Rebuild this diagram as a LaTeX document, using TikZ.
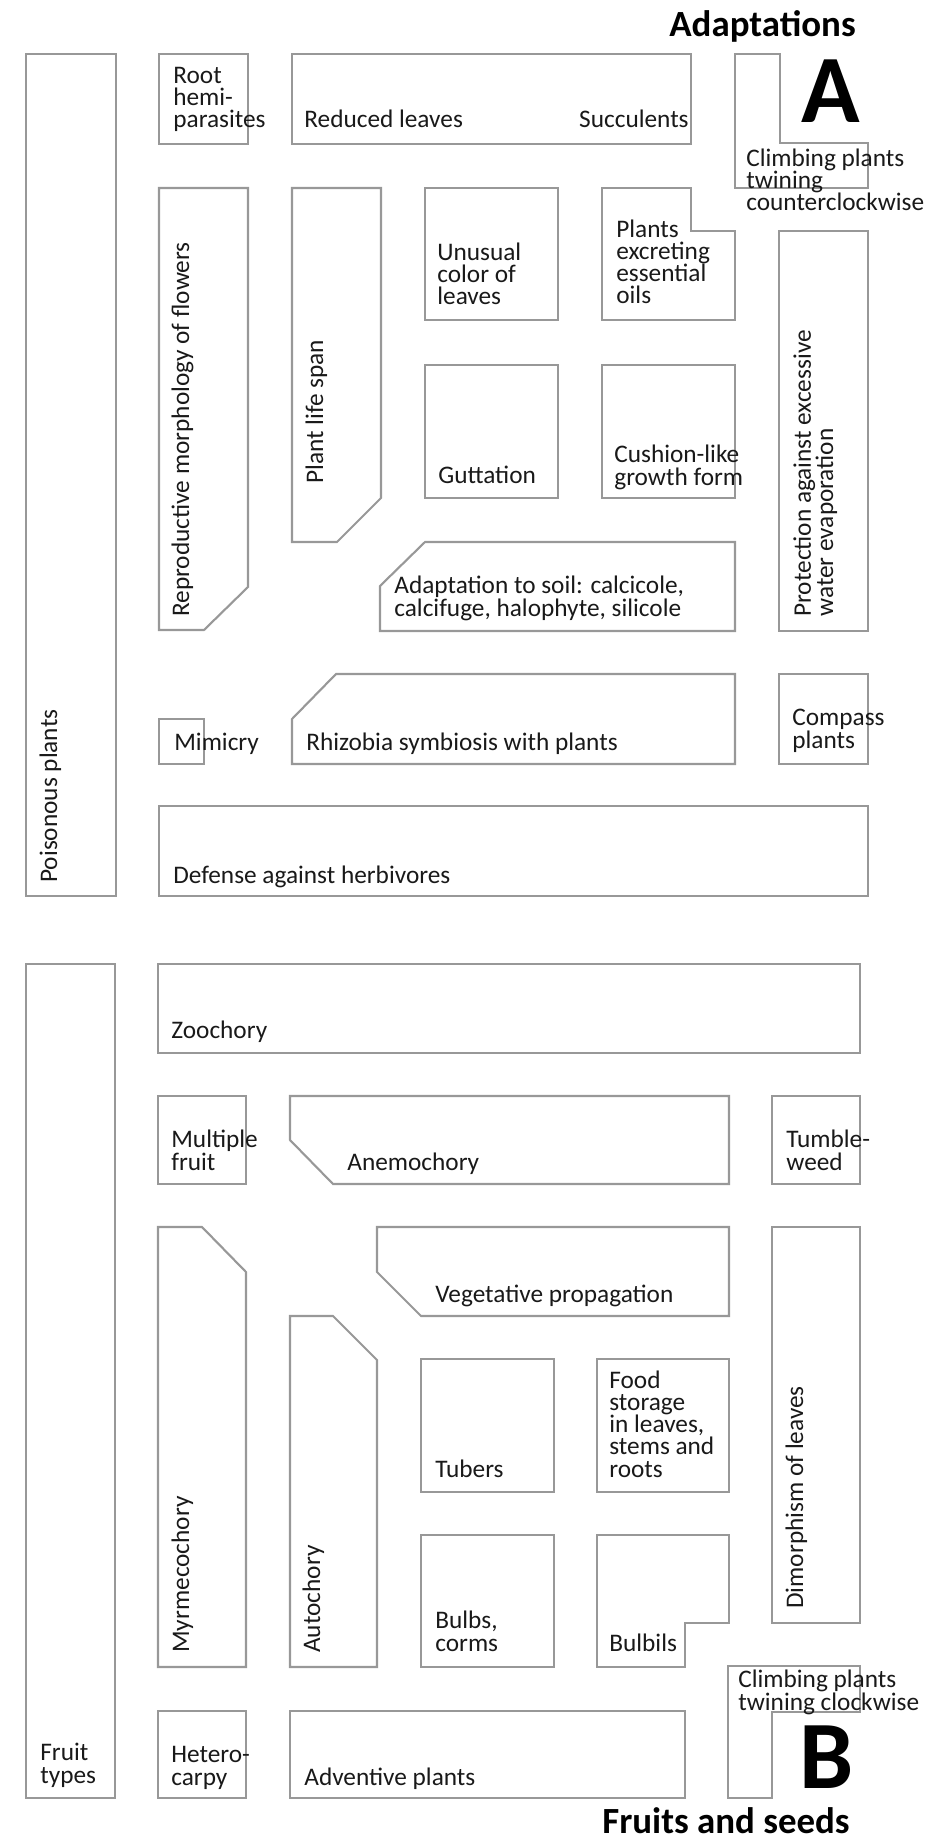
\documentclass[tikz,border=0pt]{standalone}
\usepackage{fontspec}
\setmainfont{Carlito}
\usepackage{xcolor}
\definecolor{boxgray}{RGB}{152,152,152}
\definecolor{txt}{RGB}{25,25,25}

\begin{document}
\begin{tikzpicture}[x=0.02cm, y=-0.02cm,
    box/.style={draw=boxgray, line width=1.2pt, line join=miter},
    lbl/.style={anchor=base west, inner sep=0pt, align=left, text=txt,
                font=\fontsize{14.4}{12.6}\selectfont},
    vlbl/.style={lbl, rotate=90},
    title/.style={anchor=base west, inner sep=0pt, font=\fontsize{21}{24}\selectfont\bfseries},
    letter/.style={anchor=base west, inner sep=0pt, font=\fontsize{55}{60}\selectfont\bfseries}]

    \useasboundingbox (0,0) rectangle (934,1841);

    % Adaptations: boxes
    \draw[box] (26,54) rectangle (116,896);
    \draw[box] (159,54) rectangle (248,144);
    \draw[box] (292,54) rectangle (691,144);
    \draw[box] (735,54) -- (780,54) -- (780,143) -- (868,143) -- (868,188) -- (735,188) -- cycle;
    \draw[box] (159,188) -- (248,188) -- (248,587) -- (204,630) -- (159,630) -- cycle;
    \draw[box] (292,188) -- (381,188) -- (381,498) -- (337,542) -- (292,542) -- cycle;
    \draw[box] (425,188) rectangle (558,320);
    \draw[box] (602,188) -- (691,188) -- (691,231) -- (735,231) -- (735,320) -- (602,320) -- cycle;
    \draw[box] (779,231) rectangle (868,631);
    \draw[box] (425,365) rectangle (558,498);
    \draw[box] (602,365) rectangle (735,498);
    \draw[box] (425,542) -- (735,542) -- (735,631) -- (380,631) -- (380,586) -- cycle;
    \draw[box] (159,719) rectangle (204,764);
    \draw[box] (336,674) -- (735,674) -- (735,764) -- (292,764) -- (292,719) -- cycle;
    \draw[box] (779,674) rectangle (868,764);
    \draw[box] (159,806) rectangle (868,896);

    % Adaptations: labels (multi-line ones sit on their last baseline)
    \node[title] (adapt) at (669,37) {Adaptations};
    \node[letter] (letA) at (801,123) {A};
    \node[lbl] (root) at (173,128) {Root\\hemi-\\parasites};
    \node[lbl] (reduced) at (304,128) {Reduced leaves};
    \node[lbl, anchor=base east] (succ) at (689,128) {Succulents};
    \node[lbl] (ccw) at (746,211) {Climbing plants\\twining\\counterclockwise};
    \node[lbl] (unusual) at (437,305) {Unusual\\color of\\leaves};
    \node[lbl] (oils) at (616,304) {Plants\\excreting\\essential\\oils};
    \node[lbl] (gutt) at (438,483) {Guttation};
    \node[lbl] (cushion) at (614,485) {Cushion-like\\growth form};
    \node[lbl] (soil) at (394,616) {Adaptation to soil: calcicole,\\calcifuge, halophyte, silicole};
    \node[lbl] (mimicry) at (174,750) {Mimicry};
    \node[lbl] (rhizo) at (306,750) {Rhizobia symbiosis with plants};
    \node[lbl] (compass) at (792,748) {Compass\\plants};
    \node[lbl] (defense) at (173,883) {Defense against herbivores};
    \node[vlbl] (poison) at (57,883) {Poisonous plants};
    \node[vlbl] (repro) at (189,617) {Reproductive morphology of flowers};
    \node[vlbl] (lifespan) at (323,484) {Plant life span};
    \node[vlbl] (protect) at (833,617) {Protection against excessive\\water evaporation};

    % Fruits and seeds: boxes
    \draw[box] (26,964) rectangle (115,1798);
    \draw[box] (158,964) rectangle (860,1053);
    \draw[box] (158,1096) rectangle (246,1184);
    \draw[box] (290,1096) -- (729,1096) -- (729,1184) -- (333,1184) -- (290,1140) -- cycle;
    \draw[box] (772,1096) rectangle (860,1184);
    \draw[box] (158,1227) -- (202,1227) -- (246,1272) -- (246,1667) -- (158,1667) -- cycle;
    \draw[box] (377,1227) -- (729,1227) -- (729,1316) -- (421,1316) -- (377,1272) -- cycle;
    \draw[box] (290,1316) -- (333,1316) -- (377,1360) -- (377,1667) -- (290,1667) -- cycle;
    \draw[box] (421,1359) rectangle (554,1492);
    \draw[box] (597,1359) rectangle (729,1492);
    \draw[box] (772,1227) rectangle (860,1623);
    \draw[box] (421,1535) rectangle (554,1667);
    \draw[box] (597,1535) -- (729,1535) -- (729,1623) -- (685,1623) -- (685,1667) -- (597,1667) -- cycle;
    \draw[box] (728,1666) -- (860,1666) -- (860,1712) -- (772,1712) -- (772,1798) -- (728,1798) -- cycle;
    \draw[box] (158,1711) rectangle (246,1798);
    \draw[box] (290,1711) rectangle (685,1798);

    % Fruits and seeds: labels
    \node[lbl] (zoo) at (171,1038) {Zoochory};
    \node[lbl] (multi) at (171,1170) {Multiple\\fruit};
    \node[lbl] (anemo) at (347,1170) {Anemochory};
    \node[lbl] (tumble) at (786,1170) {Tumble-\\weed};
    \node[lbl] (vegprop) at (435,1302) {Vegetative propagation};
    \node[lbl] (tubers) at (435,1477) {Tubers};
    \node[lbl] (food) at (609,1477) {Food\\storage\\in leaves,\\stems and\\roots};
    \node[lbl] (bulbs) at (435,1651) {Bulbs,\\corms};
    \node[lbl] (bulbils) at (609,1651) {Bulbils};
    \node[lbl] (cw) at (738,1710) {Climbing plants\\twining clockwise};
    \node[lbl] (fruit) at (40,1783) {Fruit\\types};
    \node[lbl] (hetero) at (171,1785) {Hetero-\\carpy};
    \node[lbl] (advent) at (304,1785) {Adventive plants};
    \node[vlbl] (myrme) at (189,1653) {Myrmecochory};
    \node[vlbl] (auto) at (320,1653) {Autochory};
    \node[vlbl] (dimorph) at (803,1609) {Dimorphism of leaves};
    \node[letter] (letB) at (799,1788) {B};
    \node[title] (fruits) at (602,1833) {Fruits and seeds};
\end{tikzpicture}
\end{document}
